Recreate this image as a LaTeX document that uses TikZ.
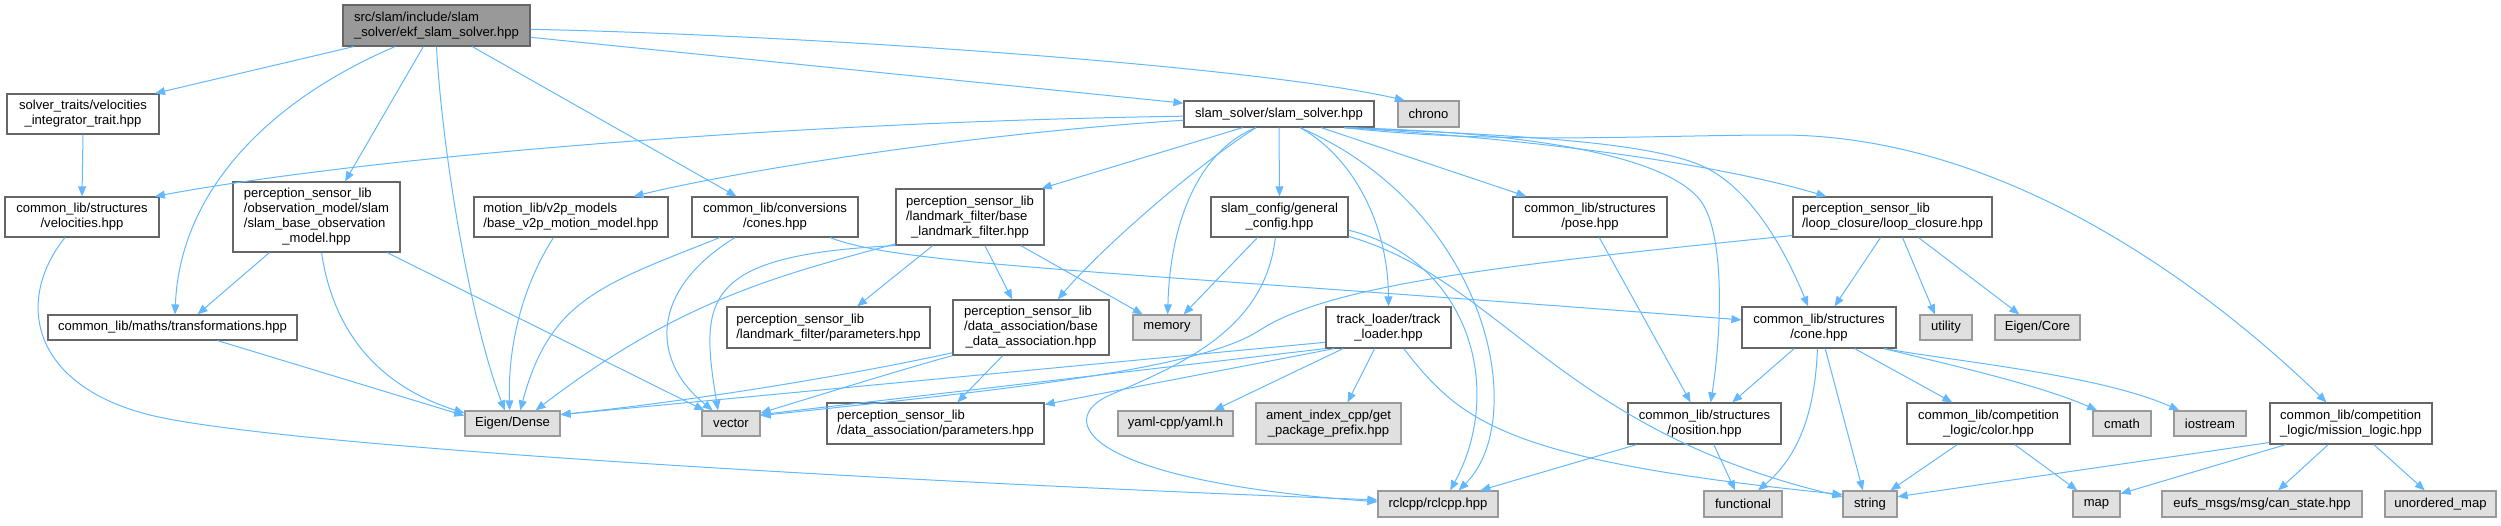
\documentclass[tikz,border=0pt]{standalone}
\usepackage{fontspec}
\setmainfont{Liberation Sans}
\usetikzlibrary{calc,arrows.meta}
\definecolor{edgeblue}{HTML}{63B8FF}
\definecolor{rootfill}{HTML}{999999}
\definecolor{extfill}{HTML}{E0E0E0}
\newcommand{\ml}[2]{\begin{tabular}{@{}l@{}}#1\\\multicolumn{1}{@{}c@{}}{#2}\end{tabular}}
\newcommand{\nd}[7]{\node[#1, minimum width={(#4-#2)*0.75pt}, minimum height={(#5-#3)*0.75pt}] (#6) at ({(#2+#4)/2},{(#3+#5)/2}) {#7};}
\tikzset{
  filebox/.style={draw=black!60, line width=0.9pt, fill=white, inner sep=0pt,
    font=\fontsize{9.8}{11.25}\selectfont},
  rootbox/.style={filebox, fill=rootfill, draw=black!60},
  extbox/.style={filebox, fill=extfill, draw=black!40},
  edge/.style={draw=edgeblue, line width=0.75pt, -{Triangle[length=7.5pt,width=6pt]}},
}
\begin{document}
\begin{tikzpicture}[x=0.75pt,y=-0.75pt]
\useasboundingbox (0,0) rectangle (2501,525);
% nodes
\nd{rootbox}{343}{5}{530}{46}{root}{\ml{src/slam/include/slam}{\_solver/ekf\_slam\_solver.hpp}}
\nd{filebox}{7}{94}{159}{134}{vit}{\ml{solver\_traits/velocities}{\_integrator\_trait.hpp}}
\nd{filebox}{5}{197}{159}{237}{vel}{\ml{common\_lib/structures}{/velocities.hpp}}
\nd{filebox}{233}{182}{400}{252}{obs}{\ml{perception\_sensor\_lib\\/observation\_model/slam\\/slam\_base\_observation}{\_model.hpp}}
\nd{filebox}{48}{315}{297}{340}{trans}{common\_lib/maths/transformations.hpp}
\nd{filebox}{474}{197}{668}{237}{motion}{\ml{motion\_lib/v2p\_models}{/base\_v2p\_motion\_model.hpp}}
\nd{filebox}{692}{197}{858}{237}{cconv}{\ml{common\_lib/conversions}{/cones.hpp}}
\nd{extbox}{465}{411}{560}{436}{eigen}{Eigen/Dense}
\nd{extbox}{702}{411}{760}{436}{vector}{vector}
\nd{filebox}{1184}{101}{1374}{127}{slam}{slam\_solver/slam\_solver.hpp}
\nd{filebox}{896}{189}{1044}{245}{lmf}{\ml{perception\_sensor\_lib\\/landmark\_filter/base}{\_landmark\_filter.hpp}}
\nd{filebox}{727}{307}{930}{348}{lmfp}{\ml{perception\_sensor\_lib}{/landmark\_filter/parameters.hpp}}
\nd{filebox}{953}{300}{1109}{355}{dab}{\ml{perception\_sensor\_lib\\/data\_association/base}{\_data\_association.hpp}}
\nd{extbox}{1133}{315}{1201}{340}{memory}{memory}
\nd{filebox}{827}{403}{1044}{444}{dap}{\ml{perception\_sensor\_lib}{/data\_association/parameters.hpp}}
\nd{extbox}{1118}{411}{1233}{436}{yaml}{yaml-cpp/yaml.h}
\nd{extbox}{1256}{403}{1401}{444}{ament}{\ml{ament\_index\_cpp/get}{\_package\_prefix.hpp}}
\nd{filebox}{1211}{197}{1348}{237}{scfg}{\ml{slam\_config/general}{\_config.hpp}}
\nd{extbox}{1398}{101}{1459}{127}{chrono}{chrono}
\nd{filebox}{1326}{307}{1451}{348}{track}{\ml{track\_loader/track}{\_loader.hpp}}
\nd{filebox}{1513}{197}{1667}{237}{pose}{\ml{common\_lib/structures}{/pose.hpp}}
\nd{extbox}{1378}{491}{1498}{517}{rclcpp}{rclcpp/rclcpp.hpp}
\nd{filebox}{1628}{403}{1781}{444}{position}{\ml{common\_lib/structures}{/position.hpp}}
\nd{filebox}{1793}{197}{1992}{237}{loop}{\ml{perception\_sensor\_lib}{/loop\_closure/loop\_closure.hpp}}
\nd{filebox}{1742}{307}{1896}{348}{cone}{\ml{common\_lib/structures}{/cone.hpp}}
\nd{extbox}{1920}{315}{1972}{340}{utility}{utility}
\nd{extbox}{1995}{315}{2080}{340}{ecore}{Eigen/Core}
\nd{extbox}{1704}{491}{1782}{517}{functional}{functional}
\nd{extbox}{1843}{491}{1897}{517}{string}{string}
\nd{filebox}{1907}{403}{2070}{444}{color}{\ml{common\_lib/competition}{\_logic/color.hpp}}
\nd{extbox}{2073}{491}{2120}{517}{map}{map}
\nd{extbox}{2093}{411}{2151}{436}{cmath}{cmath}
\nd{extbox}{2174}{411}{2246}{436}{iostream}{iostream}
\nd{filebox}{2270}{403}{2432}{444}{mission}{\ml{common\_lib/competition}{\_logic/mission\_logic.hpp}}
\nd{extbox}{2162}{491}{2362}{517}{eufs}{eufs\_msgs/msg/can\_state.hpp}
\nd{extbox}{2385}{491}{2496}{517}{umap}{unordered\_map}
% edges from root
\draw[edge] ($(root.south west)!.06!(root.south east)$) -- ($(vit.north west)!.97!(vit.north east)$);
\draw[edge] ($(root.south west)!.28!(root.south east)$) .. controls (270,100) and (180,190) .. ($(trans.north west)!.51!(trans.north east)$);
\draw[edge] ($(root.south west)!.43!(root.south east)$) -- ($(obs.north west)!.67!(obs.north east)$);
\draw[edge] ($(root.south west)!.50!(root.south east)$) .. controls (442,150) and (470,320) .. ($(eigen.north west)!.42!(eigen.north east)$);
\draw[edge] ($(root.south west)!.69!(root.south east)$) -- ($(cconv.north west)!.27!(cconv.north east)$);
\draw[edge] ($(root.north east)!.78!(root.south east)$) -- ($(slam.north west)!.1!(slam.south west)$);
\draw[edge] ($(root.north east)!.59!(root.south east)$) .. controls (800,35) and (1250,65) .. ($(chrono.north west)!.12!(chrono.north east)$);
% edges from slam_solver
\draw[edge] ($(slam.north west)!.58!(slam.south west)$) .. controls (800,122) and (380,155) .. ($(vel.north west)!.97!(vel.north east)$);
\draw[edge] ($(slam.north west)!.73!(slam.south west)$) .. controls (950,135) and (720,175) .. ($(motion.north west)!.82!(motion.north east)$);
\draw[edge] ($(slam.south west)!.31!(slam.south east)$) -- ($(lmf.north west)!.98!(lmf.north east)$);
\draw[edge] ($(slam.south west)!.38!(slam.south east)$) .. controls (1190,170) and (1100,250) .. ($(dab.north west)!.67!(dab.north east)$);
\draw[edge] ($(slam.south west)!.38!(slam.south east)$) .. controls (1200,150) and (1170,220) .. ($(memory.north west)!.51!(memory.north east)$);
\draw[edge] ($(slam.south west)!.5!(slam.south east)$) -- ($(scfg.north west)!.5!(scfg.north east)$);
\draw[edge] ($(slam.south west)!.61!(slam.south east)$) .. controls (1350,155) and (1388,220) .. ($(track.north west)!.5!(track.north east)$);
\draw[edge] ($(slam.south west)!.61!(slam.south east)$) .. controls (1490,210) and (1530,420) .. ($(rclcpp.north west)!.67!(rclcpp.north east)$);
\draw[edge] ($(slam.south west)!.72!(slam.south east)$) -- ($(pose.north west)!.09!(pose.north east)$);
\draw[edge] ($(slam.south west)!.84!(slam.south east)$) .. controls (1560,133) and (1670,162) .. (1700,200) .. controls (1725,232) and (1722,330) .. ($(position.north west)!.54!(position.north east)$);
\draw[edge] ($(slam.south west)!.84!(slam.south east)$) .. controls (1500,135) and (1640,140) .. (1700,165) .. controls (1750,186) and (1785,250) .. ($(cone.north west)!.43!(cone.north east)$);
\draw[edge] ($(slam.south west)!.84!(slam.south east)$) .. controls (1550,140) and (1720,165) .. ($(loop.north west)!.17!(loop.north east)$);
\draw[edge] ($(slam.south west)!.84!(slam.south east)$) .. controls (1500,145) and (1650,135) .. (1780,135) .. controls (2000,135) and (2200,280) .. ($(mission.north west)!.35!(mission.north east)$);
% left part
\draw[edge] ($(vit.south west)!.5!(vit.south east)$) -- ($(vel.north west)!.5!(vel.north east)$);
\draw[edge] ($(vel.south west)!.39!(vel.south east)$) .. controls (15,300) and (30,385) .. (150,415) .. controls (280,447) and (900,482) .. ($(rclcpp.north west)!.35!(rclcpp.south west)$);
\draw[edge] ($(obs.south west)!.22!(obs.south east)$) -- ($(trans.north west)!.6!(trans.north east)$);
\draw[edge] ($(obs.south west)!.53!(obs.south east)$) .. controls (330,310) and (360,380) .. ($(eigen.north west)!.1!(eigen.south west)$);
\draw[edge] ($(obs.south west)!.92!(obs.south east)$) -- ($(vector.north west)!.05!(vector.north east)$);
\draw[edge] ($(trans.south west)!.68!(trans.south east)$) -- ($(eigen.north west)!.2!(eigen.south west)$);
\draw[edge] ($(motion.south west)!.41!(motion.south east)$) .. controls (520,290) and (508,350) .. ($(eigen.north west)!.47!(eigen.north east)$);
\draw[edge] ($(cconv.south west)!.17!(cconv.south east)$) .. controls (600,285) and (550,300) .. ($(eigen.north west)!.58!(eigen.north east)$);
\draw[edge] ($(cconv.south west)!.26!(cconv.south east)$) .. controls (650,290) and (650,360) .. ($(vector.north west)!.19!(vector.north east)$);
\draw[edge] ($(cconv.south west)!.83!(cconv.south east)$) .. controls (900,265) and (1100,270) .. ($(cone.north west)!.32!(cone.south west)$);
% landmark filter, data association
\draw[edge] ($(lmf.north west)!.97!(lmf.south west)$) .. controls (780,275) and (680,300) .. ($(eigen.north west)!.74!(eigen.north east)$);
\draw[edge] (lmf.south west) .. controls (700,255) and (700,300) .. ($(vector.north west)!.28!(vector.north east)$);
\draw[edge] ($(lmf.south west)!.25!(lmf.south east)$) -- ($(lmfp.north west)!.64!(lmfp.north east)$);
\draw[edge] ($(lmf.south west)!.6!(lmf.south east)$) -- ($(dab.north west)!.38!(dab.north east)$);
\draw[edge] ($(lmf.south west)!.84!(lmf.south east)$) -- ($(memory.north west)!.15!(memory.north east)$);
\draw[edge] ($(dab.north west)!.95!(dab.south west)$) .. controls (850,375) and (700,400) .. ($(eigen.north east)!.16!(eigen.south east)$);
\draw[edge] (dab.south west) .. controls (900,370) and (820,395) .. ($(vector.north east)!.1!(vector.south east)$);
\draw[edge] ($(dab.south west)!.32!(dab.south east)$) -- ($(dap.north west)!.6!(dap.north east)$);
% slam config
\draw[edge] ($(scfg.south west)!.34!(scfg.south east)$) -- ($(memory.north west)!.74!(memory.north east)$);
\draw[edge] ($(scfg.south west)!.47!(scfg.south east)$) .. controls (1265,330) and (1180,365) .. (1110,395) .. controls (1055,419) and (1080,480) .. ($(rclcpp.north west)!.42!(rclcpp.south west)$);
\draw[edge] ($(scfg.north east)!.82!(scfg.south east)$) .. controls (1470,260) and (1505,390) .. ($(rclcpp.north west)!.6!(rclcpp.north east)$);
\draw[edge] ($(scfg.north east)!.97!(scfg.south east)$) .. controls (1500,280) and (1560,430) .. ($(string.north west)!.23!(string.south west)$);
% track loader
\draw[edge] ($(track.north west)!.85!(track.south west)$) -- ($(eigen.north east)!.16!(eigen.south east)$);
\draw[edge] (track.south west) -- ($(vector.north east)!.16!(vector.south east)$);
\draw[edge] ($(track.south west)!.07!(track.south east)$) -- ($(dap.north east)!.05!(dap.south east)$);
\draw[edge] ($(track.south west)!.14!(track.south east)$) -- ($(yaml.north west)!.83!(yaml.north east)$);
\draw[edge] ($(track.south west)!.39!(track.south east)$) -- ($(ament.north west)!.63!(ament.north east)$);
\draw[edge] ($(track.south west)!.62!(track.south east)$) .. controls (1460,420) and (1500,460) .. ($(string.north west)!.15!(string.south west)$);
% pose, position
\draw[edge] ($(pose.south west)!.56!(pose.south east)$) -- ($(position.north west)!.41!(position.north east)$);
\draw[edge] ($(position.south west)!.56!(position.south east)$) -- ($(functional.north west)!.4!(functional.north east)$);
\draw[edge] ($(position.south west)!.06!(position.south east)$) -- ($(rclcpp.north west)!.85!(rclcpp.north east)$);
% loop closure
\draw[edge] ($(loop.north west)!.95!(loop.south west)$) .. controls (1500,265) and (1330,285) .. (1260,330) .. controls (1200,370) and (1000,390) .. ($(vector.north east)!.2!(vector.south east)$);
\draw[edge] ($(loop.south west)!.44!(loop.south east)$) -- ($(cone.north west)!.6!(cone.north east)$);
\draw[edge] ($(loop.south west)!.55!(loop.south east)$) -- ($(utility.north west)!.29!(utility.north east)$);
\draw[edge] ($(loop.south west)!.63!(loop.south east)$) -- ($(ecore.north west)!.29!(ecore.north east)$);
% cone
\draw[edge] ($(cone.south west)!.34!(cone.south east)$) -- ($(position.north west)!.68!(position.north east)$);
\draw[edge] ($(cone.south west)!.49!(cone.south east)$) .. controls (1815,410) and (1800,455) .. ($(functional.north west)!.69!(functional.north east)$);
\draw[edge] ($(cone.south west)!.54!(cone.south east)$) -- ($(string.north west)!.37!(string.north east)$);
\draw[edge] ($(cone.south west)!.73!(cone.south east)$) -- ($(color.north west)!.28!(color.north east)$);
\draw[edge] ($(cone.south west)!.92!(cone.south east)$) .. controls (1950,365) and (2040,385) .. ($(cmath.north west)!.08!(cmath.north east)$);
\draw[edge] ($(cone.south west)!.92!(cone.south east)$) .. controls (1960,362) and (2100,375) .. ($(iostream.north west)!.08!(iostream.north east)$);
% color, mission
\draw[edge] ($(color.south west)!.31!(color.south east)$) -- ($(string.north west)!.87!(string.north east)$);
\draw[edge] ($(color.south west)!.66!(color.south east)$) -- ($(map.north west)!.1!(map.north east)$);
\draw[edge] ($(mission.north west)!.95!(mission.south west)$) -- ($(string.north east)!.23!(string.south east)$);
\draw[edge] ($(mission.south west)!.1!(mission.south east)$) -- ($(map.north east)!.12!(map.south east)$);
\draw[edge] ($(mission.south west)!.36!(mission.south east)$) -- ($(eufs.north west)!.58!(eufs.north east)$);
\draw[edge] ($(mission.south west)!.64!(mission.south east)$) -- ($(umap.north west)!.36!(umap.north east)$);
\end{tikzpicture}
\end{document}
